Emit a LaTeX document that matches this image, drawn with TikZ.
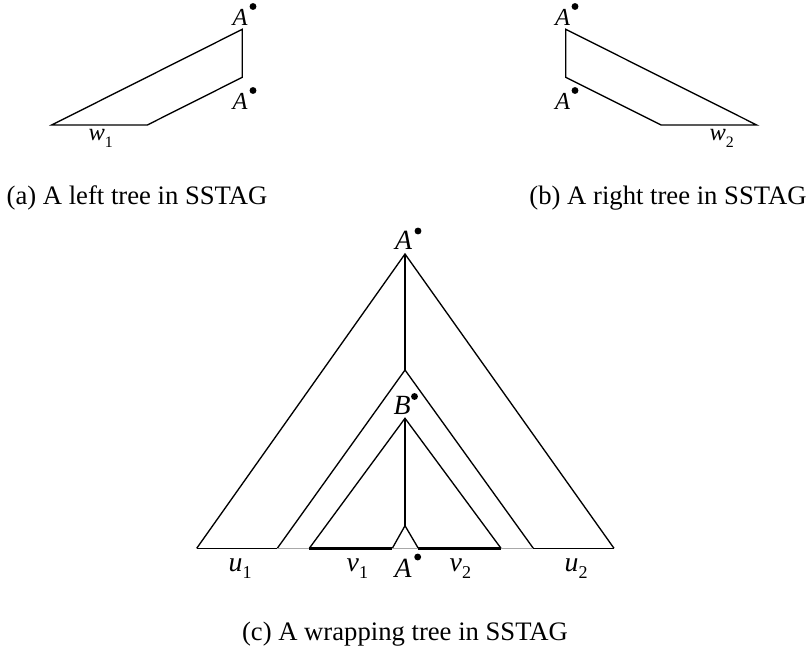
\documentclass[tikz,border=0pt]{standalone}
\usepackage{fontspec}
\setmainfont{Liberation Serif}
\usetikzlibrary{positioning}
\definecolor{acikGri}{HTML}{A8A8A8}
\newcommand{\altindis}[2]{#1\raisebox{-0.27em}{\scalebox{0.65}{\upshape #2}}}

\begin{document}
\begin{tikzpicture}[x=0.45pt,y=-0.45pt,line width=0.6pt,
  etiket/.style={inner sep=0pt,font=\fontsize{11}{13}\selectfont\itshape},
  etiketB/.style={inner sep=0pt,font=\fontsize{12.5}{14}\selectfont\itshape},
  baslik/.style={inner sep=0pt,anchor=base,font=\fontsize{12}{14}\selectfont}]
\useasboundingbox (0,0) rectangle (806,652);
% (a) sol agac
\draw (51.7,125)--(242.3,29.3)--(242.3,77.3)--(147.3,125)--cycle;
\node[etiket,anchor=base] (aUst) at (240,26) {A};
\node[etiket,anchor=base] (aAlt) at (240,110) {A};
\node[etiket,anchor=base west] (w1) at (88,141) {\altindis{w}{1}};
\node[baslik] (aBaslik) at (137,205) {(a) A left tree in SSTAG};
% (b) sag agac
\draw (756.7,125)--(565.7,29.3)--(565.7,77.3)--(661,125)--cycle;
\node[etiket,anchor=base] (bUst) at (562.5,26) {A};
\node[etiket,anchor=base] (bAlt) at (562.5,110) {A};
\node[etiket,anchor=base west] (w2) at (709,141) {\altindis{w}{2}};
\node[baslik] (bBaslik) at (668,205) {(b) A right tree in SSTAG};
% (c) saran agac
\draw (196.7,548.3)--(405,254)--(614,548.3);
\draw (405,254)--(405,370);
\draw (277.3,548.3)--(405,370)--(533.3,548.3);
\draw (309.3,548.3)--(405,418.3)--(501,548.3);
\draw (405,418.3)--(405,525.7);
\draw (392.3,548.3)--(405,525.7)--(418.3,548.3);
\draw (196.7,548.3)--(277.3,548.3);
\draw (533.3,548.3)--(614,548.3);
\draw[line width=1.1pt] (309.3,548.3)--(392.3,548.3);
\draw[line width=1.1pt] (418.3,548.3)--(501,548.3);
\foreach \s/\e in {277.3/309.3,392.3/418.3,501/533.3}
  \draw[acikGri] (\s,548.3)--(\e,548.3);
\node[etiketB,anchor=base] (cUst) at (403.5,250) {A};
\node[etiketB,anchor=base] (cB) at (402,414) {B};
\node[etiketB,anchor=base] (cAlt) at (403,577) {A};
\node[etiketB,anchor=base west] (u1) at (228,571) {\altindis{u}{1}};
\node[etiketB,anchor=base west] (v1) at (346,571) {\altindis{v}{1}};
\node[etiketB,anchor=base west] (v2) at (449,571) {\altindis{v}{2}};
\node[etiketB,anchor=base west] (u2) at (564,571) {\altindis{u}{2}};
\node[baslik] (cBaslik) at (405,640) {(c) A wrapping tree in SSTAG};
% noktalar
\foreach \p in {(253,6.5),(253,90.5),(575,6.5),(575,90.5),(418,231),(414.5,396.5),(417.7,557)}
  \fill \p circle (1.55pt);
\end{tikzpicture}
\end{document}
